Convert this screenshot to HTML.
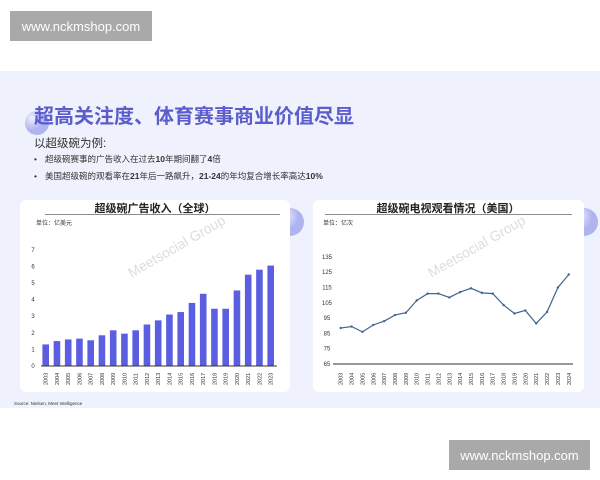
<!DOCTYPE html>
<html><head><meta charset="utf-8"><style>
body{margin:0;width:600px;height:480px;overflow:hidden;background:#fff;font-family:"Liberation Sans","Noto Sans CJK SC",sans-serif;}
</style></head><body>
<svg width="600" height="480" xmlns="http://www.w3.org/2000/svg" style="position:absolute;left:0;top:0;font-family:'Liberation Sans','Noto Sans CJK SC',sans-serif">
<defs><radialGradient id="g" cx="0.3" cy="0.3"><stop offset="0" stop-color="#eef0ff"/><stop offset="1" stop-color="#9fa3ea"/></radialGradient></defs>
<rect x="0" y="71" width="600" height="337" fill="#eff2fc"/>
<rect x="10" y="11" width="142" height="30" fill="#a9a9a9"/>
<text x="81" y="31" font-size="13" fill="#fff" text-anchor="middle">www.nckmshop.com</text>
<rect x="449" y="440" width="141" height="30" fill="#a9a9a9"/>
<text x="519.5" y="460" font-size="13" fill="#fff" text-anchor="middle">www.nckmshop.com</text>
<circle cx="37" cy="123" r="12" fill="url(#g)" opacity="0.8"/>
<circle cx="290" cy="222" r="14" fill="url(#g)" opacity="0.8"/>
<circle cx="584" cy="222" r="14" fill="url(#g)" opacity="0.8"/>
<text x="34" y="123" font-size="20" font-weight="bold" fill="#5b5dcc">超高关注度、体育赛事商业价值尽显</text>
<text x="34" y="147" font-size="11.5" fill="#333">以超级碗为例:</text>
<text x="34" y="162" font-size="8.5" fill="#333">•</text><text x="45" y="162" font-size="8.5" fill="#333">超级碗赛事的广告收入在过去<tspan font-weight="bold">10</tspan>年期间翻了<tspan font-weight="bold">4</tspan>倍</text>
<text x="34" y="179" font-size="8.5" fill="#333">•</text><text x="45" y="179" font-size="8.5" fill="#333">美国超级碗的观看率在<tspan font-weight="bold">21</tspan>年后一路飙升，<tspan font-weight="bold">21-24</tspan>的年均复合增长率高达<tspan font-weight="bold">10%</tspan></text>
<rect x="20" y="200" width="270" height="192" rx="6" fill="#fff"/>
<rect x="313" y="200" width="271" height="192" rx="6" fill="#fff"/>
<text x="155" y="212" font-size="11" font-weight="bold" fill="#222" text-anchor="middle">超级碗广告收入（全球）</text>
<line x1="45" y1="214.5" x2="280" y2="214.5" stroke="#666" stroke-width="0.8"/>
<text x="36" y="225" font-size="6" fill="#333">单位：亿美元</text>
<text x="448" y="212" font-size="11" font-weight="bold" fill="#222" text-anchor="middle">超级碗电视观看情况（美国）</text>
<line x1="325" y1="214.5" x2="572" y2="214.5" stroke="#666" stroke-width="0.8"/>
<text x="323" y="225" font-size="6" fill="#333">单位：亿次</text>
<text x="120" y="265" font-size="14" fill="#ddd" transform="rotate(-30 150 250)">Meetsocial Group</text>
<text x="420" y="265" font-size="14" fill="#ddd" transform="rotate(-30 450 250)">Meetsocial Group</text>
<g id="left"></g>
<g id="right"></g>
<text x="14" y="405" font-size="4.5" fill="#333">Source: Nielsen, Meet Intelligence</text>
</svg>
<script>
var ns="http://www.w3.org/2000/svg";
function el(p,t,a,txt){var e=document.createElementNS(ns,t);for(var k in a)e.setAttribute(k,a[k]);if(txt!=null)e.textContent=txt;p.appendChild(e);return e;}
var L=document.getElementById("left"),R=document.getElementById("right");
var v=[1.3,1.5,1.6,1.65,1.55,1.85,2.15,1.95,2.15,2.5,2.75,3.1,3.25,3.8,4.35,3.45,3.45,4.55,5.5,5.8,6.05];
for(var i=0;i<=7;i++)el(L,"text",{x:33,y:366-i*16.6+2,"font-size":6,fill:"#333","text-anchor":"middle"},i);
v.forEach(function(d,i){var cx=45.7+i*11.25,h=d*16.6;el(L,"rect",{x:cx-3.3,y:366-h,width:6.6,height:h,fill:"#5b5ee0"});
el(L,"text",{x:0,y:0,"font-size":5.5,fill:"#333",transform:"translate("+(cx+2)+",385) rotate(-90)"},2003+i);});
el(L,"line",{x1:41,y1:366,x2:277,y2:366,stroke:"#333","stroke-width":1});
var w=[88.5,89.5,86,90.5,93,97,98.5,106.5,111,111,108.5,112,114.5,111.5,111,103.5,98,100,91.5,99,115,123.5];
function Y(d){return 364-(d-65)*1.53;}
for(var t=65;t<=135;t+=10)el(R,"text",{x:327,y:Y(t)+2,"font-size":6,fill:"#333","text-anchor":"middle"},t);
var pts=w.map(function(d,i){return (340.7+i*10.86)+","+Y(d)}).join(" ");
el(R,"polyline",{points:pts,fill:"none",stroke:"#3f6590","stroke-width":1.2});
w.forEach(function(d,i){var cx=340.7+i*10.86;el(R,"circle",{cx:cx,cy:Y(d),r:1.2,fill:"#3f6590"});
el(R,"text",{x:0,y:0,"font-size":5.5,fill:"#333",transform:"translate("+(cx+2)+",385) rotate(-90)"},2003+i);});
el(R,"line",{x1:333,y1:364,x2:573,y2:364,stroke:"#333","stroke-width":1});
</script>
</body></html>
